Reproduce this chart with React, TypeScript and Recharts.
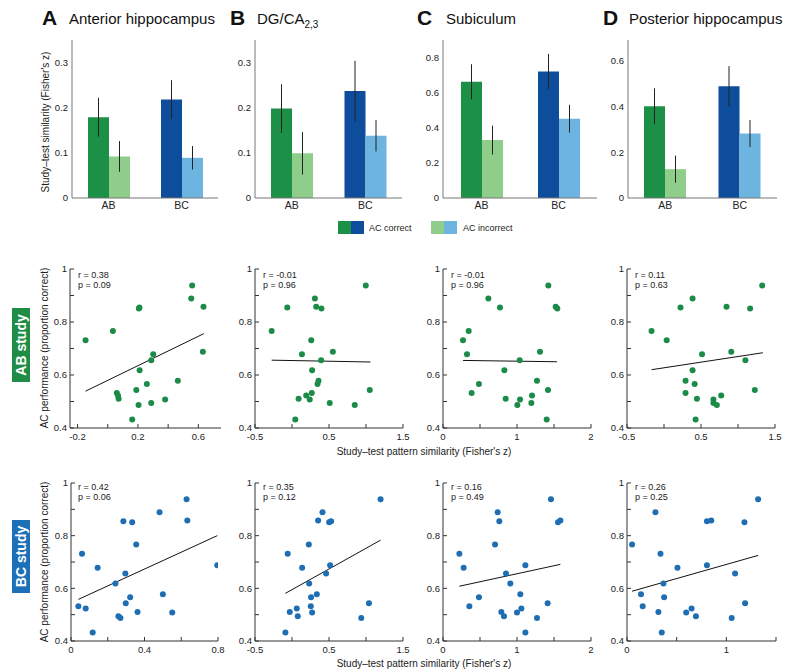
import React from "react";
import {
  BarChart,
  Bar,
  Cell,
  ErrorBar,
  XAxis,
  YAxis,
  ScatterChart,
  Scatter,
  ReferenceLine,
} from "recharts";

const FONT = "'Liberation Sans', Arial, Helvetica, sans-serif";

// ---- top row: study-test similarity, bars ----
const groups = ["AB", "BC"];

const antCorrect = [0.179, 0.218];
const antCorrectErr = [0.043, 0.043];
const antIncorrect = [0.092, 0.089];
const antIncorrectErr = [0.034, 0.026];

const dgCorrect = [0.198, 0.237];
const dgCorrectErr = [0.054, 0.067];
const dgIncorrect = [0.099, 0.138];
const dgIncorrectErr = [0.047, 0.035];

const subCorrect = [0.662, 0.721];
const subCorrectErr = [0.1, 0.1];
const subIncorrect = [0.33, 0.452];
const subIncorrectErr = [0.082, 0.079];

const postCorrect = [0.401, 0.488];
const postCorrectErr = [0.078, 0.088];
const postIncorrect = [0.126, 0.282];
const postIncorrectErr = [0.059, 0.059];

// ---- scatter rows: one AC performance value per subject ----
const acPerformance = [
  0.938, 0.889, 0.858, 0.855, 0.851, 0.766, 0.731, 0.688, 0.678, 0.656, 0.618,
  0.578, 0.566, 0.543, 0.532, 0.523, 0.51, 0.508, 0.494, 0.487, 0.432,
];

// pattern similarity, AB study
const abAnterior = [
  0.559, 0.553, 0.634, 0.21, 0.206, 0.034, -0.147, 0.63, 0.301, 0.288, 0.211,
  0.464, 0.259, 0.189, 0.06, 0.068, 0.072, 0.38, 0.288, 0.204, 0.162,
];
const abDG = [
  0.997, 0.309, 0.327, -0.064, 0.398, -0.275, 0.26, 0.552, 0.134, 0.394, 0.272,
  0.358, 0.345, 1.051, 0.267, 0.192, 0.089, 0.24, 0.51, 0.848, 0.044,
];
const abSubiculum = [
  1.423, 0.613, 1.523, 0.77, 1.545, 0.347, 0.27, 1.311, 0.324, 1.036, 0.829,
  1.27, 0.486, 1.419, 0.387, 1.203, 0.847, 1.041, 1.194, 1.005, 1.401,
];
const abPosterior = [
  1.327, 0.386, 0.845, 0.223, 1.164, -0.168, 0.036, 0.909, 0.514, 1.1, 0.386,
  0.291, 0.414, 1.227, 0.291, 0.773, 0.445, 0.668, 0.668, 0.714, 0.427,
];

// pattern similarity, BC study
const bcAnterior = [
  0.629, 0.482, 0.633, 0.285, 0.333, 0.355, 0.06, 0.796, 0.145, 0.296, 0.242,
  0.5, 0.322, 0.298, 0.04, 0.08, 0.362, 0.551, 0.258, 0.269, 0.118,
];
const bcDG = [
  1.197, 0.412, 0.353, 0.529, 0.502, 0.227, -0.058, 0.515, 0.137, 0.461, 0.232,
  0.335, 0.258, 1.04, 0.254, 0.064, -0.03, 0.272, 0.078, 0.936, -0.089,
];
const bcSubiculum = [
  1.459, 0.739, 1.586, 0.761, 1.554, 0.703, 0.221, 1.113, 0.279, 0.851, 0.91,
  1.045, 0.486, 1.414, 0.356, 1.059, 0.788, 1.0, 0.824, 1.27, 1.113,
];
const bcPosterior = [
  1.32, 0.286, 0.848, 0.805, 1.182, 0.051, 0.337, 0.805, 0.508, 1.088, 0.367,
  0.141, 0.374, 1.189, 0.158, 0.65, 0.316, 0.596, 0.694, 1.054, 0.35,
];

// fitted lines, [x0, y0, x1, y1]
const abAnteriorFit = [-0.147, 0.539, 0.636, 0.756];
const abDGFit = [-0.275, 0.656, 1.06, 0.649];
const abSubiculumFit = [0.27, 0.655, 1.54, 0.65];
const abPosteriorFit = [-0.168, 0.62, 1.336, 0.684];
const bcAnteriorFit = [0.04, 0.558, 0.796, 0.8];
const bcDGFit = [-0.089, 0.581, 1.197, 0.783];
const bcSubiculumFit = [0.221, 0.608, 1.586, 0.691];
const bcPosteriorFit = [0.051, 0.589, 1.32, 0.725];

const abStats = [
  ["0.38", "0.09"],
  ["-0.01", "0.96"],
  ["-0.01", "0.96"],
  ["0.11", "0.63"],
];
const bcStats = [
  ["0.42", "0.06"],
  ["0.35", "0.12"],
  ["0.16", "0.49"],
  ["0.26", "0.25"],
];

const perfTicks = [0.4, 0.5, 0.6, 0.7, 0.8, 0.9, 1];
const perfLabels = [0.4, 0.6, 0.8, 1];

const DARK_GREEN = "#1d9047";
const LIGHT_GREEN = "#8fcd8a";
const DARK_BLUE = "#0e4c9c";
const LIGHT_BLUE = "#6db4e0";
const DOT_GREEN = "#1b8b47";
const DOT_BLUE = "#1f6eb4";

const YW = 30;
const MT = 6;
const MR = 8;
const XH = 22;

const tickStyle = { fill: "#222", fontSize: 9.5, fontFamily: FONT };

function frame(left: number, right: number, top: number, bottom: number) {
  return {
    style: { position: "absolute" as const, left: left - YW, top: top - MT },
    width: right - left + YW + MR,
    height: bottom - top + MT + XH,
  };
}

function BarPanel(props: {
  left: number;
  right: number;
  top: number;
  max: number;
  ticks: number[];
  correct: number[];
  correctErr: number[];
  incorrect: number[];
  incorrectErr: number[];
}) {
  const f = frame(props.left, props.right, props.top, 198);
  const data = groups.map((g, i) => ({
    group: g,
    correct: props.correct[i],
    correctErr: props.correctErr[i],
    incorrect: props.incorrect[i],
    incorrectErr: props.incorrectErr[i],
  }));
  return (
    <div style={f.style}>
      <BarChart
        width={f.width}
        height={f.height}
        data={data}
        margin={{ top: MT, right: MR, bottom: 0, left: 0 }}
        barGap={0}
        barSize={21}
      >
        <XAxis
          dataKey="group"
          height={XH}
          tickLine={false}
          tickSize={0}
          tickMargin={4}
          stroke="#777"
          tick={{ ...tickStyle, fontSize: 10.5 }}
        />
        <YAxis
          type="number"
          width={YW}
          domain={[0, props.max]}
          ticks={props.ticks}
          allowDataOverflow
          tickLine={false}
          tickSize={0}
          tickMargin={4}
          stroke="#777"
          tick={tickStyle}
        />
        <Bar dataKey="correct" isAnimationActive={false}>
          {data.map((d, i) => (
            <Cell key={d.group} fill={i === 0 ? DARK_GREEN : DARK_BLUE} />
          ))}
          <ErrorBar dataKey="correctErr" width={0} stroke="#222" strokeWidth={1} direction="y" />
        </Bar>
        <Bar dataKey="incorrect" isAnimationActive={false}>
          {data.map((d, i) => (
            <Cell key={d.group} fill={i === 0 ? LIGHT_GREEN : LIGHT_BLUE} />
          ))}
          <ErrorBar dataKey="incorrectErr" width={0} stroke="#222" strokeWidth={1} direction="y" />
        </Bar>
      </BarChart>
    </div>
  );
}

function ScatterPanel(props: {
  left: number;
  right: number;
  top: number;
  bottom: number;
  xDomain: number[];
  xTicks: number[];
  xLabels: number[];
  xs: number[];
  fit: number[];
  color: string;
}) {
  const f = frame(props.left, props.right, props.top, props.bottom);
  const pts = props.xs.map((x, i) => ({ x, y: acPerformance[i] }));
  const [x0, y0, x1, y1] = props.fit;
  const color = props.color;
  return (
    <div style={f.style}>
      <ScatterChart
        width={f.width}
        height={f.height}
        margin={{ top: MT, right: MR, bottom: 0, left: 0 }}
      >
        <XAxis
          type="number"
          dataKey="x"
          domain={props.xDomain}
          ticks={props.xTicks}
          allowDataOverflow
          tickFormatter={(v: number) => (props.xLabels.includes(v) ? String(v) : "")}
          height={XH}
          tickSize={-4}
          tickMargin={9}
          stroke="#333"
          tick={tickStyle}
        />
        <YAxis
          type="number"
          dataKey="y"
          domain={[0.4, 1]}
          ticks={perfTicks}
          allowDataOverflow
          tickFormatter={(v: number) => (perfLabels.includes(v) ? String(v) : "")}
          width={YW}
          tickSize={-4}
          tickMargin={7}
          stroke="#333"
          tick={tickStyle}
        />
        <Scatter
          data={pts}
          isAnimationActive={false}
          shape={(p: any) => <circle cx={p.cx} cy={p.cy} r={3} fill={color} />}
        />
        <ReferenceLine
          segment={[
            { x: x0, y: y0 },
            { x: x1, y: y1 },
          ]}
          stroke="#111"
          strokeWidth={1}
          ifOverflow="visible"
        />
      </ScatterChart>
    </div>
  );
}

const cols = [
  { left: 70, right: 221 },
  { left: 255, right: 403 },
  { left: 443, right: 591 },
  { left: 627, right: 775 },
];

function StatText({ x, y, r, p }: { x: number; y: number; r: string; p: string }) {
  return (
    <g fontSize={9} fill="#222">
      <text x={x} y={y}>{`r = ${r}`}</text>
      <text x={x} y={y + 10}>{`p = ${p}`}</text>
    </g>
  );
}

export default function App() {
  const titles = [
    { letter: "A", lx: 42, tx: 69, name: "Anterior hippocampus" },
    { letter: "B", lx: 230, tx: 257, name: "DG/CA" },
    { letter: "C", lx: 417, tx: 446, name: "Subiculum" },
    { letter: "D", lx: 603, tx: 629, name: "Posterior hippocampus" },
  ];
  return (
    <div
      style={{
        position: "absolute",
        left: 0,
        top: 0,
        width: 800,
        height: 672,
        background: "#fff",
        fontFamily: FONT,
        overflow: "hidden",
      }}
    >
      <BarPanel left={72} right={218} top={40} max={0.35} ticks={[0, 0.1, 0.2, 0.3]}
        correct={antCorrect} correctErr={antCorrectErr} incorrect={antIncorrect} incorrectErr={antIncorrectErr} />
      <BarPanel left={255} right={402} top={40} max={0.35} ticks={[0, 0.1, 0.2, 0.3]}
        correct={dgCorrect} correctErr={dgCorrectErr} incorrect={dgIncorrect} incorrectErr={dgIncorrectErr} />
      <BarPanel left={443} right={597} top={40} max={0.9} ticks={[0, 0.2, 0.4, 0.6, 0.8]}
        correct={subCorrect} correctErr={subCorrectErr} incorrect={subIncorrect} incorrectErr={subIncorrectErr} />
      <BarPanel left={628} right={777} top={40} max={0.69} ticks={[0, 0.2, 0.4, 0.6]}
        correct={postCorrect} correctErr={postCorrectErr} incorrect={postIncorrect} incorrectErr={postIncorrectErr} />

      <ScatterPanel {...cols[0]} top={269} bottom={428} xDomain={[-0.25, 0.75]}
        xTicks={[-0.2, 0, 0.2, 0.4, 0.6]} xLabels={[-0.2, 0.2, 0.6]} xs={abAnterior} fit={abAnteriorFit} color={DOT_GREEN} />
      <ScatterPanel {...cols[1]} top={269} bottom={428} xDomain={[-0.5, 1.5]}
        xTicks={[-0.5, 0, 0.5, 1, 1.5]} xLabels={[-0.5, 0.5, 1.5]} xs={abDG} fit={abDGFit} color={DOT_GREEN} />
      <ScatterPanel {...cols[2]} top={269} bottom={428} xDomain={[0, 2]}
        xTicks={[0, 0.5, 1, 1.5, 2]} xLabels={[0, 1, 2]} xs={abSubiculum} fit={abSubiculumFit} color={DOT_GREEN} />
      <ScatterPanel {...cols[3]} top={269} bottom={428} xDomain={[-0.5, 1.5]}
        xTicks={[-0.5, 0, 0.5, 1, 1.5]} xLabels={[-0.5, 0.5, 1.5]} xs={abPosterior} fit={abPosteriorFit} color={DOT_GREEN} />

      <ScatterPanel left={71} right={218} top={483} bottom={641} xDomain={[0, 0.8]}
        xTicks={[0, 0.2, 0.4, 0.6, 0.8]} xLabels={[0, 0.4, 0.8]} xs={bcAnterior} fit={bcAnteriorFit} color={DOT_BLUE} />
      <ScatterPanel {...cols[1]} top={483} bottom={641} xDomain={[-0.5, 1.5]}
        xTicks={[-0.5, 0, 0.5, 1, 1.5]} xLabels={[-0.5, 0.5, 1.5]} xs={bcDG} fit={bcDGFit} color={DOT_BLUE} />
      <ScatterPanel {...cols[2]} top={483} bottom={641} xDomain={[0, 2]}
        xTicks={[0, 0.5, 1, 1.5, 2]} xLabels={[0, 1, 2]} xs={bcSubiculum} fit={bcSubiculumFit} color={DOT_BLUE} />
      <ScatterPanel left={627} right={776} top={483} bottom={641} xDomain={[0, 1.5]}
        xTicks={[0, 0.5, 1, 1.5]} xLabels={[0, 1]} xs={bcPosterior} fit={bcPosteriorFit} color={DOT_BLUE} />

      <svg
        width={800}
        height={672}
        style={{ position: "absolute", left: 0, top: 0, pointerEvents: "none" }}
        fontFamily={FONT}
      >
        {titles.map((t) => (
          <g key={t.letter}>
            <text x={t.lx} y={25} fontSize={21} fontWeight="bold" fill="#111">
              {t.letter}
            </text>
            <text x={t.tx} y={23.5} fontSize={15} fill="#111">
              {t.name}
              {t.letter === "B" && (
                <tspan fontSize={10} dy={4}>
                  2,3
                </tspan>
              )}
            </text>
          </g>
        ))}

        <text transform="translate(49,122) rotate(-90)" textAnchor="middle" fontSize={10} fill="#222">
          Study–test similarity (Fisher's z)
        </text>
        <text transform="translate(48,348) rotate(-90)" textAnchor="middle" fontSize={10} fill="#222">
          AC performance (proportion correct)
        </text>
        <text transform="translate(48,562) rotate(-90)" textAnchor="middle" fontSize={10} fill="#222">
          AC performance (proportion correct)
        </text>
        <text x={424} y={455} textAnchor="middle" fontSize={10} fill="#222">
          Study–test pattern similarity (Fisher's z)
        </text>
        <text x={424} y={667} textAnchor="middle" fontSize={10} fill="#222">
          Study–test pattern similarity (Fisher's z)
        </text>

        {/* legend */}
        <rect x={338} y={221} width={13} height={13} fill={DARK_GREEN} />
        <rect x={351} y={221} width={13} height={13} fill={DARK_BLUE} />
        <text x={369} y={231} fontSize={9} fill="#222">AC correct</text>
        <rect x={431} y={221} width={13} height={13} fill={LIGHT_GREEN} />
        <rect x={444} y={221} width={13} height={13} fill={LIGHT_BLUE} />
        <text x={463} y={231} fontSize={9} fill="#222">AC incorrect</text>

        {/* row labels */}
        <rect x={12} y={308} width={18} height={74} fill="#1f8d45" />
        <text transform="translate(21,345) rotate(-90)" textAnchor="middle" dominantBaseline="central"
          fontSize={14} fontWeight="bold" fill="#fff">
          AB study
        </text>
        <rect x={12} y={520} width={18} height={73} fill="#1b70b8" />
        <text transform="translate(21,556.5) rotate(-90)" textAnchor="middle" dominantBaseline="central"
          fontSize={14} fontWeight="bold" fill="#fff">
          BC study
        </text>

        {abStats.map((s, i) => (
          <StatText key={"ab" + i} x={cols[i].left + 8} y={278} r={s[0]} p={s[1]} />
        ))}
        {bcStats.map((s, i) => (
          <StatText key={"bc" + i} x={cols[i].left + 8} y={490} r={s[0]} p={s[1]} />
        ))}
      </svg>
    </div>
  );
}
